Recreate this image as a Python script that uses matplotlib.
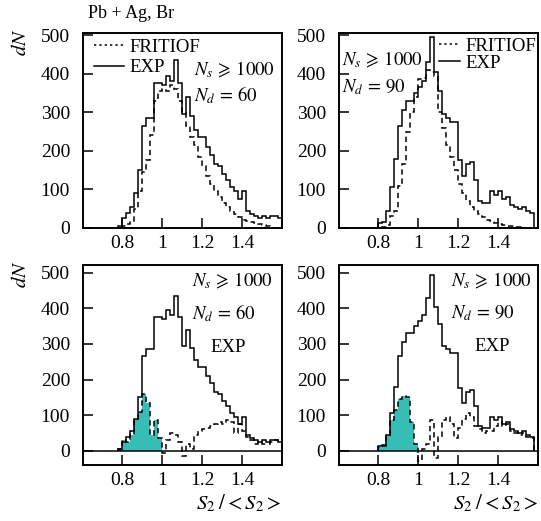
import numpy as np
import matplotlib
matplotlib.use('Agg')
import matplotlib.pyplot as plt
from matplotlib.lines import Line2D

plt.rcParams['font.family'] = 'serif'
plt.rcParams['font.serif'] = ['Liberation Serif', 'DejaVu Serif']
plt.rcParams['mathtext.fontset'] = 'stix'

# bin width 0.02, first bin edge given separately for each series
exp60_start = 0.78
exp60 = [5, 25, 40, 55, 90, 150, 265, 285, 285, 375, 375, 370, 395, 380, 435,
         375, 295, 340, 290, 255, 235, 235, 210, 190, 165, 160, 140, 125, 105,
         95, 75, 95, 45, 35, 30, 25, 30, 25, 30, 30, 25]

fr60_start = 0.80
fr60 = [5, 10, 15, 50, 95, 145, 175, 240, 330, 355, 360, 355, 370, 360, 330,
        300, 265, 235, 215, 185, 160, 135, 115, 95, 80, 65, 55, 45, 35, 28,
        22, 18, 15, 12, 10, 8, 5]

exp90_start = 0.80
exp90 = [12, 15, 45, 105, 180, 265, 305, 330, 330, 350, 365, 380, 430, 495,
         405, 355, 295, 285, 275, 275, 175, 135, 165, 170, 125, 70, 65, 65, 95,
         85, 95, 75, 80, 60, 55, 50, 55, 45, 40]

fr90_start = 0.82
fr90 = [3, 8, 30, 45, 110, 165, 250, 300, 340, 385, 390, 410, 405, 395, 300,
        260, 215, 185, 150, 115, 90, 70, 55, 45, 35, 28, 22, 18, 14, 10, 8, 6,
        4, 3, 2]

diff60_start = 0.78
diff60 = [5, 30, 25, 45, 90, 110, 160, 135, 45, 85, 35, -5, 30, 50, 45, 25,
          -15, 20, 5, 45, 55, 60, 65, 70, 75, 80, 75, 85, 80, 50, 75, 55, 40,
          30, 20, 25, 20, 20, 25, 30, 25]
diff60_nfill = 11

diff90_start = 0.80
diff90 = [10, 12, 45, 85, 115, 145, 155, 150, 80, 20, -30, 5, 20, 85, -20, 40,
          85, 95, 75, 35, 65, 90, 105, 95, 70, 60, 50, 55, 55, 70, 80, 70, 75,
          55, 50, 45, 50, 40, 35]
diff90_nfill = 10

bw = 0.02
teal = '#36bdb6'
dash = (0, (3.5, 2.5))


def edges(start, vals):
    return start + bw * np.arange(len(vals) + 1)


def style(ax, bottom_panel):
    ax.set_xlim(0.6, 1.6)
    if bottom_panel:
        ax.set_ylim(-40, 522)
        ax.axhline(0, color='black', lw=1.1)
    else:
        ax.set_ylim(0, 505)
    ax.set_xticks([0.8, 1.0, 1.2, 1.4])
    ax.set_xticklabels(['0.8', '1', '1.2', '1.4'])
    ax.set_yticks([0, 100, 200, 300, 400, 500])
    ax.tick_params(direction='in', length=7, width=1.1, labelsize=14)
    ax.tick_params(axis='y', pad=9)
    ax.tick_params(axis='x', pad=5)
    for s in ax.spines.values():
        s.set_linewidth(1.4)


fig = plt.figure(figsize=(5.41, 5.21), dpi=100)
w, h1, h2 = 0.369, 0.374, 0.384
ax1 = fig.add_axes([0.1525, 0.5624, w, h1])
ax2 = fig.add_axes([0.6257, 0.5624, w, h1])
ax3 = fig.add_axes([0.1525, 0.1075, w, h2])
ax4 = fig.add_axes([0.6257, 0.1075, w, h2])

# top row: EXP vs FRITIOF
ax1.stairs(exp60, edges(exp60_start, exp60), baseline=0, color='black', lw=1.1)
ax1.stairs(fr60, edges(fr60_start, fr60), baseline=0, color='black', lw=1.1, linestyle=dash)
ax2.stairs(exp90, edges(exp90_start, exp90), baseline=0, color='black', lw=1.1)
ax2.stairs(fr90, edges(fr90_start, fr90), baseline=0, color='black', lw=1.1, linestyle=dash)

# bottom row: EXP and EXP - FRITIOF
for ax, ev, es, dv, ds, nf in [(ax3, exp60, exp60_start, diff60, diff60_start, diff60_nfill),
                               (ax4, exp90, exp90_start, diff90, diff90_start, diff90_nfill)]:
    de = edges(ds, dv)
    ax.stairs(dv[:nf], de[:nf + 1], baseline=0, fill=True, color=teal, lw=0)
    ax.stairs(dv, de, baseline=0, color='black', lw=1.1, linestyle=dash)
    ax.stairs(ev, edges(es, ev), baseline=0, color='black', lw=1.1)

for ax, b in [(ax1, False), (ax2, False), (ax3, True), (ax4, True)]:
    style(ax, b)

handles = [Line2D([], [], color='black', lw=1.1, linestyle=(0, (1.5, 2))),
           Line2D([], [], color='black', lw=1.1)]
ax1.legend(handles, ['FRITIOF', 'EXP'], loc='upper left', bbox_to_anchor=(-0.01, 1.04),
           frameon=False, fontsize=13.5, handlelength=1.6, handletextpad=0.3,
           labelspacing=0.2, borderpad=0.2)
ax2.legend(handles, ['FRITIOF', 'EXP'], loc='upper right', bbox_to_anchor=(1.055, 1.045),
           frameon=False, fontsize=13.5, handlelength=1.1, handletextpad=0.3,
           labelspacing=0.0, borderpad=0.2)

fs = 13.5
ns = r'$N_s\,\geqslant\,1000$'
ax1.text(0.56, 0.81, ns, transform=ax1.transAxes, fontsize=fs, va='center')
ax1.text(0.56, 0.68, r'$N_d\,=\,60$', transform=ax1.transAxes, fontsize=fs, va='center')
ax2.text(0.02, 0.865, ns, transform=ax2.transAxes, fontsize=fs, va='center')
ax2.text(0.02, 0.725, r'$N_d\,=\,90$', transform=ax2.transAxes, fontsize=fs, va='center')
ax3.text(0.55, 0.92, ns, transform=ax3.transAxes, fontsize=fs, va='center')
ax3.text(0.55, 0.76, r'$N_d\,=\,60$', transform=ax3.transAxes, fontsize=fs, va='center')
ax3.text(0.64, 0.585, 'EXP', transform=ax3.transAxes, fontsize=fs, va='center')
ax4.text(0.565, 0.92, ns, transform=ax4.transAxes, fontsize=fs, va='center')
ax4.text(0.565, 0.76, r'$N_d\,=\,90$', transform=ax4.transAxes, fontsize=fs, va='center')
ax4.text(0.68, 0.59, 'EXP', transform=ax4.transAxes, fontsize=fs, va='center')

fig.text(131 / 541, 1 - 13 / 521, 'Pb + Ag, Br', fontsize=13, ha='center', va='center')
fig.text(21 / 541, 1 - 42 / 521, r'$dN$', fontsize=15, rotation=90, ha='center', va='center')
fig.text(21 / 541, 1 - 274 / 521, r'$dN$', fontsize=15, rotation=90, ha='center', va='center')
fig.text(282 / 541, 1 - 503 / 521, r'$S_2\;/<S_2>$', fontsize=15, ha='right', va='center')
fig.text(539 / 541, 1 - 503 / 521, r'$S_2\;/<S_2>$', fontsize=15, ha='right', va='center')

fig.savefig('out.png', dpi=100)
